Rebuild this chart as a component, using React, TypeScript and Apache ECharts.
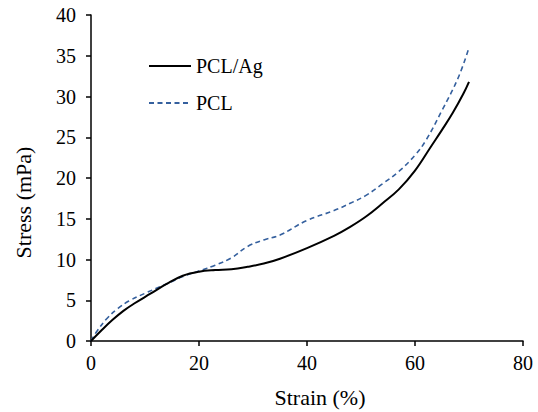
import React, { useEffect, useRef } from "react";
import * as echarts from "echarts";

const pclAgStrain = [0, 2, 4, 6, 8, 11, 14, 17, 20, 23, 26, 29, 32, 35, 40, 45, 48, 51, 54, 57, 60, 63, 65, 67, 69, 70];
const pclAgStress = [0, 1.35, 2.6, 3.7, 4.6, 5.8, 7.0, 8.0, 8.5, 8.7, 8.8, 9.1, 9.5, 10.1, 11.4, 12.9, 14.0, 15.3, 16.9, 18.6, 20.9, 23.9, 25.9, 28.0, 30.4, 31.8];

const pclStrain = [0, 1, 3, 5, 7, 10, 14, 17, 20, 23, 26, 29, 32, 35, 40, 45, 48, 51, 54, 57, 60, 62, 65, 68, 70];
const pclStress = [0, 1.1, 2.8, 4.0, 4.9, 5.85, 7.0, 7.9, 8.6, 9.3, 10.2, 11.6, 12.4, 13.0, 14.8, 16.0, 16.9, 17.9, 19.3, 20.8, 22.8, 24.6, 28.3, 32.3, 36.0];

const seriesNames = ["PCL/Ag", "PCL"];
const xTitle = "Strain (%)";
const yTitle = "Stress (mPa)";

const FONT = "Liberation Serif";

export default function App() {
  const ref = useRef<HTMLDivElement>(null);
  useEffect(() => {
    document.body.style.margin = "0";
    const chart = echarts.init(ref.current!, null, { renderer: "svg" });
    const zip = (xs: number[], ys: number[]) => xs.map((x, i) => [x, ys[i]]);
    chart.setOption({
      animation: false,
      backgroundColor: "#ffffff",
      textStyle: { fontFamily: FONT },
      grid: { left: 91, right: 15, top: 15, bottom: 71, outerBoundsMode: "none" },
      legend: {
        orient: "vertical",
        left: 143,
        top: 51,
        itemWidth: 42,
        itemHeight: 14,
        itemGap: 17,
        data: seriesNames,
        itemStyle: { opacity: 0 },
        textStyle: { fontFamily: FONT, fontSize: 20, color: "#000", lineHeight: 20 },
      },
      xAxis: {
        type: "value",
        min: 0,
        max: 80,
        interval: 20,
        name: xTitle,
        nameLocation: "middle",
        nameGap: 45,
        nameTextStyle: { fontFamily: FONT, fontSize: 22, color: "#000", padding: [0, 0, 0, 26] },
        axisLine: { show: true, lineStyle: { color: "#000", width: 1.5 } },
        axisTick: { show: true, inside: false, length: 5, lineStyle: { color: "#000", width: 1.5 } },
        axisLabel: { fontFamily: FONT, fontSize: 20, color: "#000", margin: 12 },
        splitLine: { show: false },
      },
      yAxis: {
        type: "value",
        min: 0,
        max: 40,
        interval: 5,
        name: yTitle,
        nameLocation: "middle",
        nameGap: 57,
        nameRotate: 90,
        nameTextStyle: { fontFamily: FONT, fontSize: 22, color: "#000", padding: [0, 49, 0, 0] },
        axisLine: { show: true, lineStyle: { color: "#000", width: 1.5 } },
        axisTick: { show: true, inside: false, length: 5, lineStyle: { color: "#000", width: 1.5 } },
        axisLabel: { fontFamily: FONT, fontSize: 20, color: "#000", margin: 15 },
        splitLine: { show: false },
      },
      series: [
        {
          name: seriesNames[0],
          type: "line",
          smooth: 0.4,
          symbol: "none",
          data: zip(pclAgStrain, pclAgStress),
          lineStyle: { color: "#000", width: 2 },
          itemStyle: { color: "#000" },
          z: 3,
        },
        {
          name: seriesNames[1],
          type: "line",
          smooth: 0.4,
          symbol: "none",
          data: zip(pclStrain, pclStress),
          lineStyle: { color: "#35609E", width: 1.6, type: [5, 3.5] },
          itemStyle: { color: "#35609E" },
          z: 2,
        },
      ],
    });
    return () => chart.dispose();
  }, []);
  return <div ref={ref} style={{ position: "absolute", left: 0, top: 0, width: 538, height: 412 }} />;
}
